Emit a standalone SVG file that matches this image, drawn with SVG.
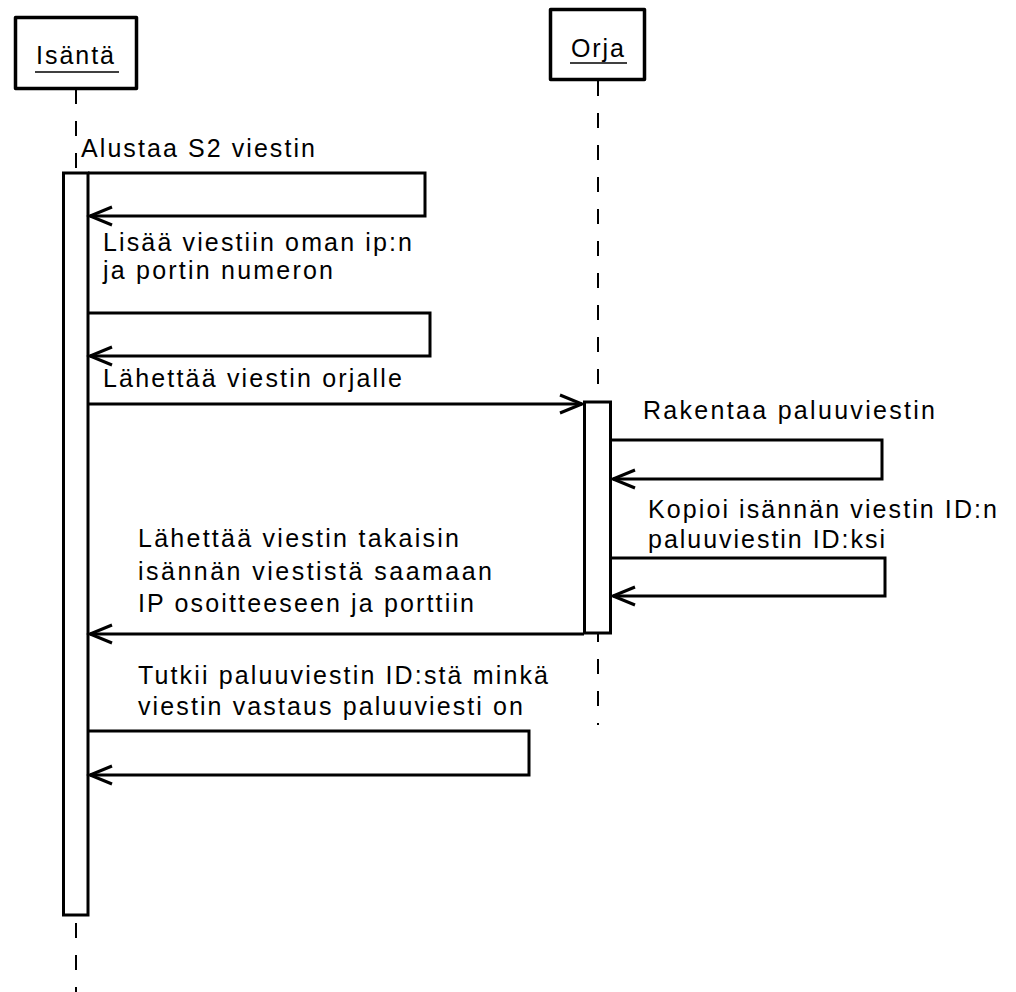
<svg xmlns="http://www.w3.org/2000/svg" width="1016" height="992" viewBox="0 0 1016 992">
<style>
.t{font-family:"Liberation Sans",Arial,sans-serif;font-size:25px;fill:#000}
.box{fill:#fff;stroke:#000;stroke-width:3.5;stroke-linejoin:round}
.act{fill:#fff;stroke:#000;stroke-width:3}
.life{stroke:#000;stroke-width:2;stroke-dasharray:15 17;fill:none}
.msg{fill:none;stroke:#000;stroke-width:3;marker-end:url(#ah)}
.ul{stroke:#000;stroke-width:1.5}
</style>
<defs>
<marker id="ah" markerUnits="userSpaceOnUse" viewBox="-26 -12 30 24" refX="0" refY="0" markerWidth="30" markerHeight="24" orient="auto">
<path d="M-22,-9 L0,0 L-22,9" fill="none" stroke="#000" stroke-width="3"/>
</marker>
</defs>
<rect width="1016" height="992" fill="#fff"/>
<g id="lifelines">
<line class="life" x1="76" y1="89" x2="76" y2="172"/>
<line class="life" x1="76" y1="923" x2="76" y2="992"/>
<line class="life" x1="598" y1="81" x2="598" y2="401"/>
<line class="life" x1="598" y1="627" x2="598" y2="725"/>
</g>
<g id="isanta">
<rect class="box" x="15.5" y="17.5" width="121" height="71"/>
<text class="t" x="36" y="64" textLength="78" lengthAdjust="spacing">Isäntä</text>
<line class="ul" x1="35" y1="72" x2="119" y2="72"/>
</g>
<g id="orja">
<rect class="box" x="550.5" y="9.5" width="94" height="70"/>
<text class="t" x="571" y="57" textLength="53" lengthAdjust="spacing">Orja</text>
<line class="ul" x1="570" y1="63" x2="627" y2="63"/>
</g>
<g id="isanta-activation">
<rect class="act" x="63.5" y="173" width="24.5" height="742"/>
</g>
<g id="orja-activation">
<rect class="act" x="584.5" y="402" width="26" height="231"/>
</g>
<g id="connectors">
<path class="msg" d="M88,173 H425 V216 H90"/>
<path class="msg" d="M88,313 H430 V356 H90"/>
<path class="msg" d="M88,404 H582"/>
<path class="msg" d="M611,440 H882 V479 H613"/>
<path class="msg" d="M611,558 H885 V596 H613"/>
<path class="msg" d="M584,634 H90"/>
<path class="msg" d="M88,731 H529 V775 H90"/>
</g>
<g id="labels">
<text class="t" x="81" y="157" textLength="234" lengthAdjust="spacing">Alustaa S2 viestin</text>
<text class="t" x="103" y="251" textLength="309" lengthAdjust="spacing">Lisää viestiin oman ip:n</text>
<text class="t" x="103" y="279" textLength="230" lengthAdjust="spacing">ja portin numeron</text>
<text class="t" x="103" y="387" textLength="299" lengthAdjust="spacing">Lähettää viestin orjalle</text>
<text class="t" x="643" y="419" textLength="292" lengthAdjust="spacing">Rakentaa paluuviestin</text>
<text class="t" x="648" y="518" textLength="349" lengthAdjust="spacing">Kopioi isännän viestin ID:n</text>
<text class="t" x="648" y="548" textLength="237" lengthAdjust="spacing">paluuviestin ID:ksi</text>
<text class="t" x="138" y="547" textLength="321" lengthAdjust="spacing">Lähettää viestin takaisin</text>
<text class="t" x="138" y="580" textLength="354" lengthAdjust="spacing">isännän viestistä saamaan</text>
<text class="t" x="138" y="612" textLength="336" lengthAdjust="spacing">IP osoitteeseen ja porttiin</text>
<text class="t" x="138" y="684" textLength="410" lengthAdjust="spacing">Tutkii paluuviestin ID:stä minkä</text>
<text class="t" x="138" y="715" textLength="385" lengthAdjust="spacing">viestin vastaus paluuviesti on</text>
</g>
</svg>
